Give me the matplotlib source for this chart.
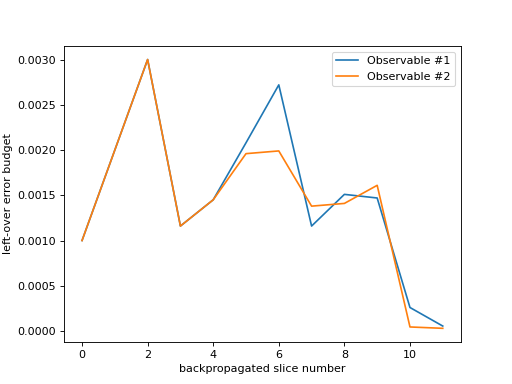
import matplotlib
matplotlib.use("Agg")
import matplotlib.pyplot as plt
import numpy as np

slices = np.arange(12)
obs1 = [0.00100, 0.00200, 0.00300, 0.00116, 0.00145, 0.00208,
        0.00272, 0.00116, 0.00151, 0.00147, 0.00026, 0.000055]
obs2 = [0.00100, 0.00200, 0.00300, 0.00116, 0.00145, 0.00196,
        0.00199, 0.00138, 0.00141, 0.00161, 0.000045, 0.00003]

fig = plt.figure(figsize=(6.4, 4.8), dpi=80)
plt.plot(slices, obs1, label='Observable #1')
plt.plot(slices, obs2, label='Observable #2')
plt.xlabel('backpropagated slice number')
plt.ylabel('left-over error budget')
plt.legend()
plt.savefig('out.png', dpi=80)
